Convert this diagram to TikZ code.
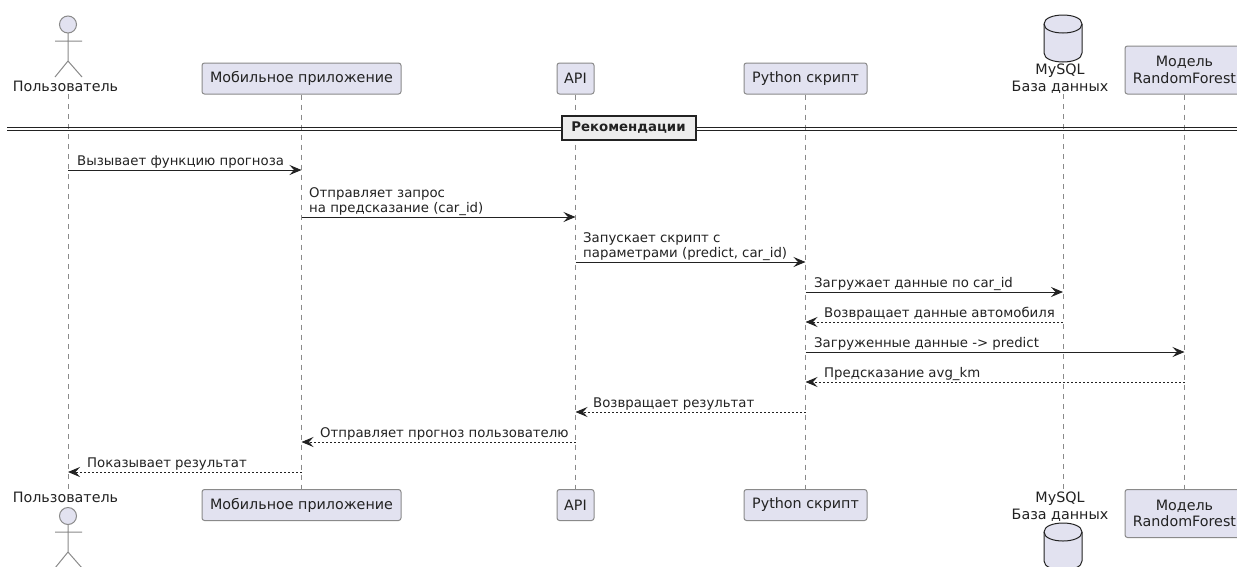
\documentclass[tikz,border=0pt]{standalone}
\usepackage{fontspec}
\setmainfont{DejaVu Sans}
\usetikzlibrary{arrows.meta}
\definecolor{boxfill}{HTML}{E2E2F0}
\definecolor{boxline}{HTML}{8A8A8A}
\definecolor{ink}{HTML}{222222}
\tikzset{
  x=1pt,y=-1pt,
  every node/.style={font=\fontsize{14.3}{16.7}\selectfont,text=ink,inner sep=0pt},
  part/.style={draw=boxline,fill=boxfill,rounded corners=2.5pt,line width=1pt,minimum height=31pt,align=center},
  partb/.style={part,minimum height=48pt},
  life/.style={draw=boxline,line width=0.8pt,dash pattern=on 5pt off 5pt},
  call/.style={draw=ink,line width=0.9pt,-{Stealth[length=12pt,width=10pt,inset=4.5pt]}},
  ret/.style={call,dash pattern=on 2pt off 2pt},
  fig/.style={draw=boxline,fill=boxfill,line width=1pt},
  lbl/.style={anchor=base west,align=left,font=\fontsize{13.3}{15}\selectfont},
}
\begin{document}
\begin{tikzpicture}
\path[use as bounding box] (0,0) rectangle (1237,566);
\clip (0,0) rectangle (1237,566);
\fill[white] (0,0) rectangle (1237,566);
% lifeline ends
\coordinate (Ut) at (68,94); \coordinate (Ub) at (68,490);
\coordinate (Dt) at (1063,94); \coordinate (Db) at (1063,490);
\node[part,minimum width=199pt] (Mt) at (301.5,78.5) {Мобильное приложение};
\node[part,minimum width=199pt] (Mb) at (301.5,505) {Мобильное приложение};
\node[part,minimum width=37pt] (At) at (575.5,78.5) {API};
\node[part,minimum width=37pt] (Ab) at (575.5,505) {API};
\node[part,minimum width=123pt] (Pt) at (805.5,78.5) {Python скрипт};
\node[part,minimum width=123pt] (Pb) at (805.5,505) {Python скрипт};
\node[partb,minimum width=119pt] (Rt) at (1184.5,70) {Модель\\RandomForest};
\node[partb,minimum width=119pt] (Rb) at (1184.5,513.5) {Модель\\RandomForest};
\draw[life] (Ut) -- (Ub);
\draw[life] (Mt.south) -- (Mb.north);
\draw[life] (At.south) -- (Ab.north);
\draw[life] (Pt.south) -- (Pb.north);
\draw[life] (Dt) -- (Db);
\draw[life] (Rt.south) -- (Rb.north);
% actors
\draw[fig] (68,24.5) circle (8.5);
\draw[fig,fill=none] (68,33) -- (68,61) (55,41) -- (82,41) (55,77) -- (68,61) -- (82,77);
\node (Un1) at (65.5,86) {Пользователь};
\node (Un2) at (65.5,497.5) {Пользователь};
\draw[fig] (68,516) circle (8.5);
\draw[fig,fill=none] (68,524.5) -- (68,552) (55,532) -- (82,532) (55,568) -- (68,552) -- (82,568);
% databases
\draw[fig,draw=ink,line width=1pt] (1044,24) .. controls (1044,12) and (1082,12) .. (1082,24) -- (1082,53)
  .. controls (1082,65) and (1044,65) .. (1044,53) -- cycle;
\draw[draw=ink,line width=1pt] (1044,24) .. controls (1044,36) and (1082,36) .. (1082,24);
\node[align=center] (Dn1) at (1060,78.5) {MySQL\\База данных};
\node[align=center] (Dn2) at (1060,507) {MySQL\\База данных};
\draw[fig,draw=ink,line width=1pt] (1044,532) .. controls (1044,520) and (1082,520) .. (1082,532) -- (1082,561)
  .. controls (1082,573) and (1044,573) .. (1044,561) -- cycle;
\draw[draw=ink,line width=1pt] (1044,532) .. controls (1044,544) and (1082,544) .. (1082,532);
% divider
\draw[draw=ink,line width=0.9pt] (7,127) -- (1237,127) (7,130) -- (1237,130);
\node[draw=ink,line width=2pt,fill=black!7,minimum width=134pt,minimum height=24pt,font=\fontsize{13.3}{15}\selectfont\bfseries] (Sec) at (628.5,127.5) {Рекомендации};
% messages
\draw[call] (Ut |- 0,170) -- (Mt.south |- 0,170);
\node[lbl] (l1) at (77,165.5) {Вызывает функцию прогноза};
\draw[call] (Mt.south |- 0,217) -- (At.south |- 0,217);
\node[lbl] (l2a) at (309,197.5) {Отправляет запрос};
\node[lbl] (l2b) at (309,212.5) {на предсказание (car\_id)};
\draw[call] (At.south |- 0,262) -- (Pt.south |- 0,262);
\node[lbl] (l3a) at (583,242.5) {Запускает скрипт с};
\node[lbl] (l3b) at (583,257.5) {параметрами (predict, car\_id)};
\draw[call] (Pt.south |- 0,292) -- (Dt |- 0,292);
\node[lbl] (l4) at (814,287.5) {Загружает данные по car\_id};
\draw[ret] (Dt |- 0,322) -- (Pt.south |- 0,322);
\node[lbl] (l5) at (824,317.5) {Возвращает данные автомобиля};
\draw[call] (Pt.south |- 0,352) -- (Rt.south |- 0,352);
\node[lbl] (l6) at (814,347.5) {Загруженные данные -> predict};
\draw[ret] (Rt.south |- 0,382) -- (Pt.south |- 0,382);
\node[lbl] (l7) at (824,377.5) {Предсказание avg\_km};
\draw[ret] (Pt.south |- 0,412) -- (At.south |- 0,412);
\node[lbl] (l8) at (593,407.5) {Возвращает результат};
\draw[ret] (At.south |- 0,442) -- (Mt.south |- 0,442);
\node[lbl] (l9) at (320,437.5) {Отправляет прогноз пользователю};
\draw[ret] (Mt.south |- 0,472) -- (Ut |- 0,472);
\node[lbl] (l10) at (87,467.5) {Показывает результат};
\end{tikzpicture}
\end{document}
